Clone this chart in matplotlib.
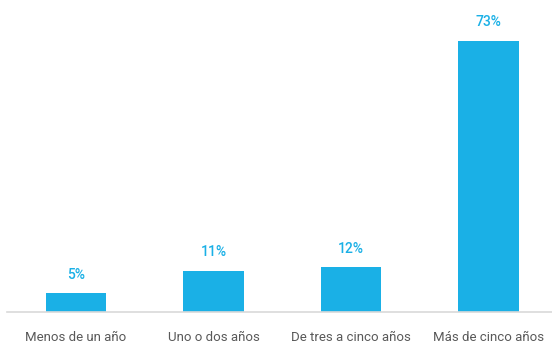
import matplotlib
matplotlib.use("Agg")
import matplotlib.pyplot as plt

categories = ["Menos de un año", "Uno o dos años", "De tres a cinco años", "Más de cinco años"]
values = [5, 11, 12, 73]
labels = ["5%", "11%", "12%", "73%"]

plt.rcParams['font.family'] = ['Roboto', 'DejaVu Sans']
color = "#1AB0E6"

fig = plt.figure(figsize=(5.52, 3.45), dpi=100)
ax = fig.add_axes([7/552, 33/345, 545/552, 297/345])
x = range(len(categories))
ax.bar(x, values, width=0.44, color=color, zorder=2)
for xi, v, lab in zip(x, values, labels):
    ax.annotate(lab, (xi, v), xytext=(0, 8.5), textcoords="offset points",
                ha="center", va="bottom", color=color, fontsize=10, fontweight="medium")
ax.set_xlim(-0.5, 3.46)
ax.set_ylim(0, 80)
ax.set_xticks(list(x))
ax.set_xticklabels(categories, fontsize=9.5, color="#595959")
ax.tick_params(axis="x", length=0, pad=14)
ax.set_yticks([])
for s in ["top", "right", "left"]:
    ax.spines[s].set_visible(False)
ax.spines["bottom"].set_color("#D9D9D9")
ax.spines["bottom"].set_linewidth(1.2)
fig.savefig("out.png", dpi=100)
